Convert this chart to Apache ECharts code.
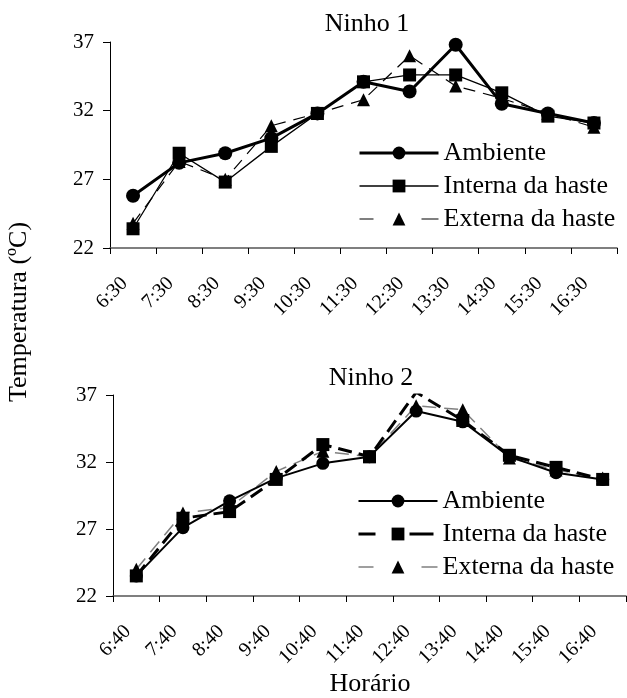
<!DOCTYPE html>
<html>
<head>
<meta charset="utf-8">
<script src="https://cdn.jsdelivr.net/npm/echarts@6/dist/echarts.min.js"></script>
<style>
html,body{margin:0;padding:0;background:#fff;}
#chart{width:627px;height:698px;}
</style>
</head>
<body>
<div id="chart"></div>
<script>
// ---- data ----
const hours1 = ['6:30','7:30','8:30','9:30','10:30','11:30','12:30','13:30','14:30','15:30','16:30'];
const hours2 = ['6:40','7:40','8:40','9:40','10:40','11:40','12:40','13:40','14:40','15:40','16:40'];
const seriesNames = ['Ambiente','Interna da haste','Externa da haste'];

const ambiente1 = [25.8, 28.2, 28.9, 30.0, 31.8, 34.1, 33.4, 36.8, 32.5, 31.8, 31.1];
const interna1  = [23.4, 28.9, 26.8, 29.4, 31.8, 34.1, 34.6, 34.6, 33.3, 31.6, 31.1];
const externa1  = [23.8, 28.3, 27.0, 30.9, 31.8, 32.8, 36.0, 33.8, 32.9, 31.8, 30.8];

const ambiente2 = [23.5, 27.1, 29.1, 30.8, 31.9, 32.4, 35.8, 35.0, 32.4, 31.2, 30.7];
const interna2  = [23.5, 27.8, 28.3, 30.7, 33.3, 32.4, 37.2, 35.1, 32.5, 31.6, 30.7];
const externa2  = [24.0, 28.2, 28.6, 31.3, 32.8, 32.4, 36.2, 35.9, 32.3, 31.4, 30.8];

const yMin = 22, yMax = 37, yStep = 5;
const titles = ['Ninho 1', 'Ninho 2'];
const yTitle = 'Temperatura (ºC)';
const xTitle = 'Horário';

// ---- chart ----
const FONT = "'Liberation Serif','Times New Roman',serif";
const chart = echarts.init(document.getElementById('chart'), null, {renderer:'canvas'});

function xAxis(idx, cats){
  return {
    type:'category', gridIndex:idx, data:cats, boundaryGap:true,
    axisLine:{lineStyle:{color:'#555', width:1.5}},
    axisTick:{show:true, inside:false, length:6, alignWithLabel:false, lineStyle:{color:'#000', width:1}},
    axisLabel:{rotate:45, margin:24, padding:[0,12,0,0], color:'#000', fontFamily:FONT, fontSize:20, interval:0},
    splitLine:{show:false}
  };
}
function yAxis(idx){
  return {
    type:'value', gridIndex:idx, min:yMin, max:yMax, interval:yStep,
    axisLine:{show:true, lineStyle:{color:'#000', width:1}},
    axisTick:{show:true, inside:false, length:7, lineStyle:{color:'#000'}},
    axisLabel:{margin:16, color:'#000', fontFamily:FONT, fontSize:21},
    splitLine:{show:false}
  };
}
const nm = (n, k) => n + '#' + k;
const legendText = {fontFamily:FONT, fontSize:26, color:'#000', lineHeight:26};

const option = {
  animation:false,
  backgroundColor:'#fff',
  textStyle:{fontFamily:FONT},
  title:[
    {text:titles[0], left:362, top:6, textAlign:'center', textStyle:{fontFamily:FONT, fontSize:26, fontWeight:'normal', color:'#000'}},
    {text:titles[1], left:366, top:360, textAlign:'center', textStyle:{fontFamily:FONT, fontSize:26, fontWeight:'normal', color:'#000'}}
  ],
  grid:[
    {left:110, right:10, top:42, height:206},
    {left:113, right:1, top:395, height:201}
  ],
  xAxis:[xAxis(0, hours1), xAxis(1, hours2)],
  yAxis:[yAxis(0), yAxis(1)],
  legend:[
    {orient:'vertical', left:358, top:140, padding:0, itemGap:7, itemWidth:79, itemHeight:16,
     data:[
       {name:nm(seriesNames[0],1), lineStyle:{width:3, color:'#000', type:'solid'}},
       {name:nm(seriesNames[1],1), lineStyle:{width:1.3, color:'#000', type:'solid'}},
       {name:nm(seriesNames[2],1), lineStyle:{width:1.2, color:'#000', type:[14,48,17]}}
     ],
     formatter:n=>n.split('#')[0], textStyle:legendText, selectedMode:false},
    {orient:'vertical', left:357, top:488, padding:0, itemGap:7, itemWidth:79, itemHeight:16,
     data:[
       {name:nm(seriesNames[0],2), lineStyle:{width:2, color:'#000', type:'solid'}},
       {name:nm(seriesNames[1],2), lineStyle:{width:3, color:'#000', type:[17,34,24]}},
       {name:nm(seriesNames[2],2), lineStyle:{width:1.5, color:'#808080', type:[15,48,16]}}
     ],
     formatter:n=>n.split('#')[0], textStyle:legendText, selectedMode:false}
  ],
  graphic:[
    {type:'text', x:19, y:312, rotation:Math.PI/2,
     style:{text:yTitle, fill:'#000', font:"26px 'Liberation Serif','Times New Roman',serif", align:'center', verticalAlign:'middle'}},
    {type:'text', x:370, y:684,
     style:{text:xTitle, fill:'#000', font:"26px 'Liberation Serif','Times New Roman',serif", align:'center', verticalAlign:'middle'}}
  ],
  series:[
    {name:nm(seriesNames[2],1), type:'line', xAxisIndex:0, yAxisIndex:0, data:externa1,
     symbol:'triangle', symbolSize:13, itemStyle:{color:'#000'},
     lineStyle:{color:'#000', width:1.2, type:[12,8]}, z:3},
    {name:nm(seriesNames[1],1), type:'line', xAxisIndex:0, yAxisIndex:0, data:interna1,
     symbol:'rect', symbolSize:13, itemStyle:{color:'#000'},
     lineStyle:{color:'#000', width:1.3, type:'solid'}, z:4},
    {name:nm(seriesNames[0],1), type:'line', xAxisIndex:0, yAxisIndex:0, data:ambiente1,
     symbol:'circle', symbolSize:14, itemStyle:{color:'#000'},
     lineStyle:{color:'#000', width:3, type:'solid'}, z:5},

    {name:nm(seriesNames[2],2), type:'line', xAxisIndex:1, yAxisIndex:1, data:externa2,
     symbol:'triangle', symbolSize:13, itemStyle:{color:'#000'},
     lineStyle:{color:'#808080', width:1.5, type:[14,8]}, z:3},
    {name:nm(seriesNames[1],2), type:'line', xAxisIndex:1, yAxisIndex:1, data:interna2,
     symbol:'rect', symbolSize:13, itemStyle:{color:'#000'},
     lineStyle:{color:'#000', width:3, type:[14,7]}, z:4},
    {name:nm(seriesNames[0],2), type:'line', xAxisIndex:1, yAxisIndex:1, data:ambiente2,
     symbol:'circle', symbolSize:13, itemStyle:{color:'#000'},
     lineStyle:{color:'#000', width:2, type:'solid'}, z:5}
  ]
};
chart.setOption(option);
</script>
</body>
</html>
